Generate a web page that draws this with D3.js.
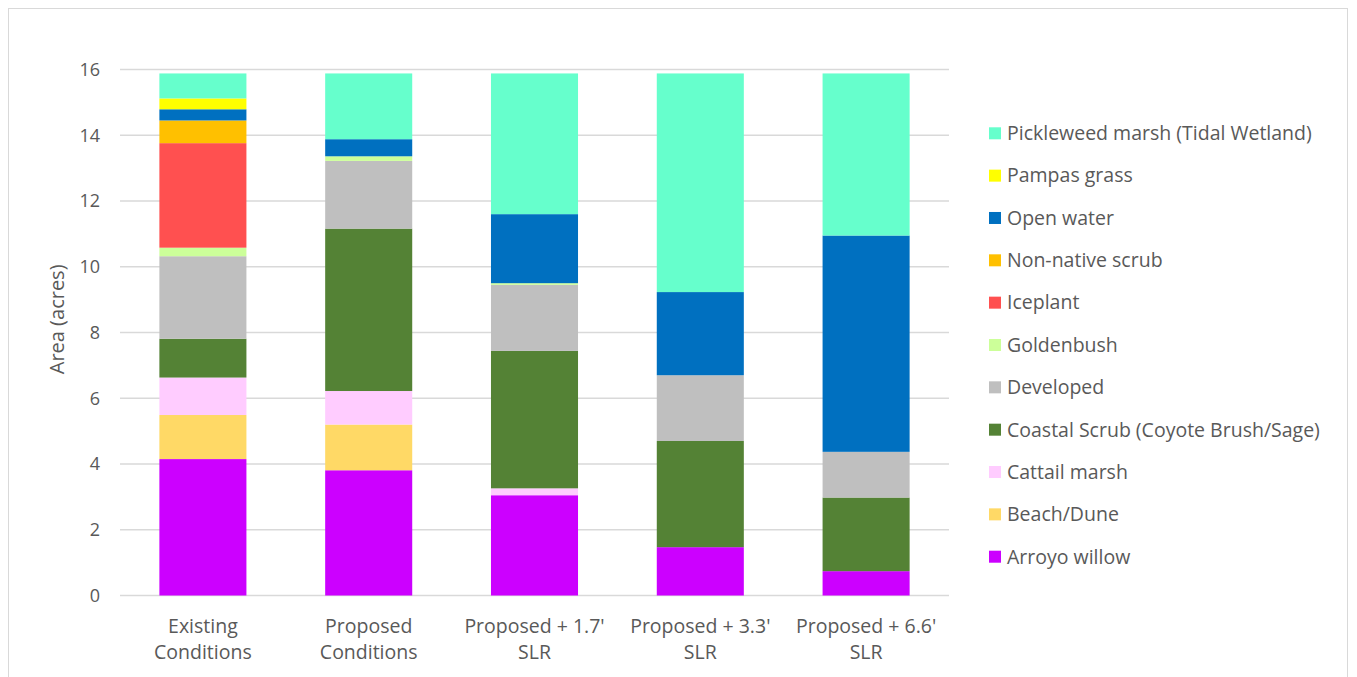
<!DOCTYPE html>
<html>
<head>
<meta charset="utf-8">
<script src="https://cdn.jsdelivr.net/npm/d3@7"></script>
<style>
  body { margin: 0; background: #fff; }
  text { font-family: "Open Sans", sans-serif; fill: #595959; }
</style>
</head>
<body>
<svg id="chart" width="1357" height="677"></svg>
<script>
var width = 1357;
var height = 677;

var categories = [
  ["Existing", "Conditions"],
  ["Proposed", "Conditions"],
  ["Proposed + 1.7'", "SLR"],
  ["Proposed + 3.3'", "SLR"],
  ["Proposed + 6.6'", "SLR"]
];

// stacking order, bottom to top
var seriesNames = [
  "Arroyo willow",
  "Beach/Dune",
  "Cattail marsh",
  "Coastal Scrub (Coyote Brush/Sage)",
  "Developed",
  "Goldenbush",
  "Iceplant",
  "Non-native scrub",
  "Open water",
  "Pampas grass",
  "Pickleweed marsh (Tidal Wetland)"
];

var seriesColors = [
  "#CC00FF", "#FFD966", "#FFCCFF", "#548235", "#BFBFBF",
  "#CCFF99", "#FF5050", "#FFC000", "#0070C0", "#FFFF00", "#66FFCC"
];

var arroyoWillow = [4.15, 3.81, 3.05, 1.47, 0.74];
var beachDune = [1.34, 1.39, 0, 0, 0];
var cattailMarsh = [1.14, 1.02, 0.21, 0, 0];
var coastalScrub = [1.18, 4.94, 4.18, 3.23, 2.24];
var developed = [2.51, 2.06, 2.01, 2.00, 1.39];
var goldenbush = [0.26, 0.14, 0.05, 0, 0];
var iceplant = [3.18, 0, 0, 0, 0];
var nonNativeScrub = [0.69, 0, 0, 0, 0];
var openWater = [0.34, 0.52, 2.10, 2.53, 6.58];
var pampasGrass = [0.33, 0, 0, 0, 0];
var pickleweed = [0.76, 2.00, 4.28, 6.65, 4.93];

var yTicks = [0, 2, 4, 6, 8, 10, 12, 14, 16];

var seriesValues = [arroyoWillow, beachDune, cattailMarsh, coastalScrub, developed,
  goldenbush, iceplant, nonNativeScrub, openWater, pampasGrass, pickleweed];

var rows = categories.map(function(c, i) {
  var r = { key: i };
  seriesNames.forEach(function(s, j) { r[s] = seriesValues[j][i]; });
  return r;
});

var stack = d3.stack().keys(seriesNames)(rows);

var x = d3.scaleBand()
  .domain(d3.range(categories.length))
  .range([120, 949])
  .paddingInner(0.475)
  .paddingOuter(0.2375);

var y = d3.scaleLinear()
  .domain([0, 16])
  .range([595.5, 69.5]);

var color = d3.scaleOrdinal(seriesNames, seriesColors);

var svg = d3.select("#chart");

// chart border
svg.append("rect")
  .attr("x", 8.5)
  .attr("y", 8.5)
  .attr("width", 1339)
  .attr("height", 700)
  .attr("fill", "none")
  .attr("stroke", "#d9d9d9")
  .attr("stroke-width", 1);

// gridlines
svg.append("g")
  .selectAll("line")
  .data(yTicks)
  .join("line")
  .attr("x1", 120)
  .attr("x2", 949)
  .attr("y1", d => y(d))
  .attr("y2", d => y(d))
  .attr("stroke", "#d9d9d9")
  .attr("stroke-width", 1.5);

// y tick labels
svg.append("g")
  .selectAll("text")
  .data(yTicks)
  .join("text")
  .attr("x", 100)
  .attr("y", d => y(d))
  .attr("dy", "0.35em")
  .attr("text-anchor", "end")
  .style("font-size", "18px")
  .text(d => d);

// axis title
svg.append("text")
  .attr("transform", "translate(64," + y(8.4) + ") rotate(-90)")
  .attr("text-anchor", "middle")
  .style("font-size", "20px")
  .text("Area (acres)");

// bars
svg.append("g")
  .selectAll("g")
  .data(stack)
  .join("g")
  .attr("fill", d => color(d.key))
  .selectAll("rect")
  .data(d => d)
  .join("rect")
  .attr("x", d => x(d.data.key))
  .attr("width", x.bandwidth())
  .attr("y", d => y(d[1]))
  .attr("height", d => y(d[0]) - y(d[1]));

// category labels
svg.append("g")
  .selectAll("text")
  .data(categories)
  .join("text")
  .attr("text-anchor", "middle")
  .style("font-size", "19.5px")
  .attr("x", (d, i) => x(i) + x.bandwidth() / 2)
  .attr("y", 633)
  .selectAll("tspan")
  .data(d => d)
  .join("tspan")
  .attr("x", function() { return d3.select(this.parentNode).attr("x"); })
  .attr("dy", (d, i) => i ? 26 : 0)
  .text(d => d);

// legend, top entry is the last series
var legendNames = seriesNames.slice().reverse();
var ly = d3.scalePoint()
  .domain(legendNames)
  .range([133.3, 556.7]);

var legend = svg.append("g")
  .selectAll("g")
  .data(legendNames)
  .join("g")
  .attr("transform", d => "translate(989," + ly(d) + ")");

legend.append("rect")
  .attr("x", 0)
  .attr("y", -6)
  .attr("width", 12)
  .attr("height", 12)
  .attr("fill", d => color(d));

legend.append("text")
  .attr("x", 18)
  .attr("dy", "0.35em")
  .style("font-size", "19.5px")
  .text(d => d);
</script>
</body>
</html>
